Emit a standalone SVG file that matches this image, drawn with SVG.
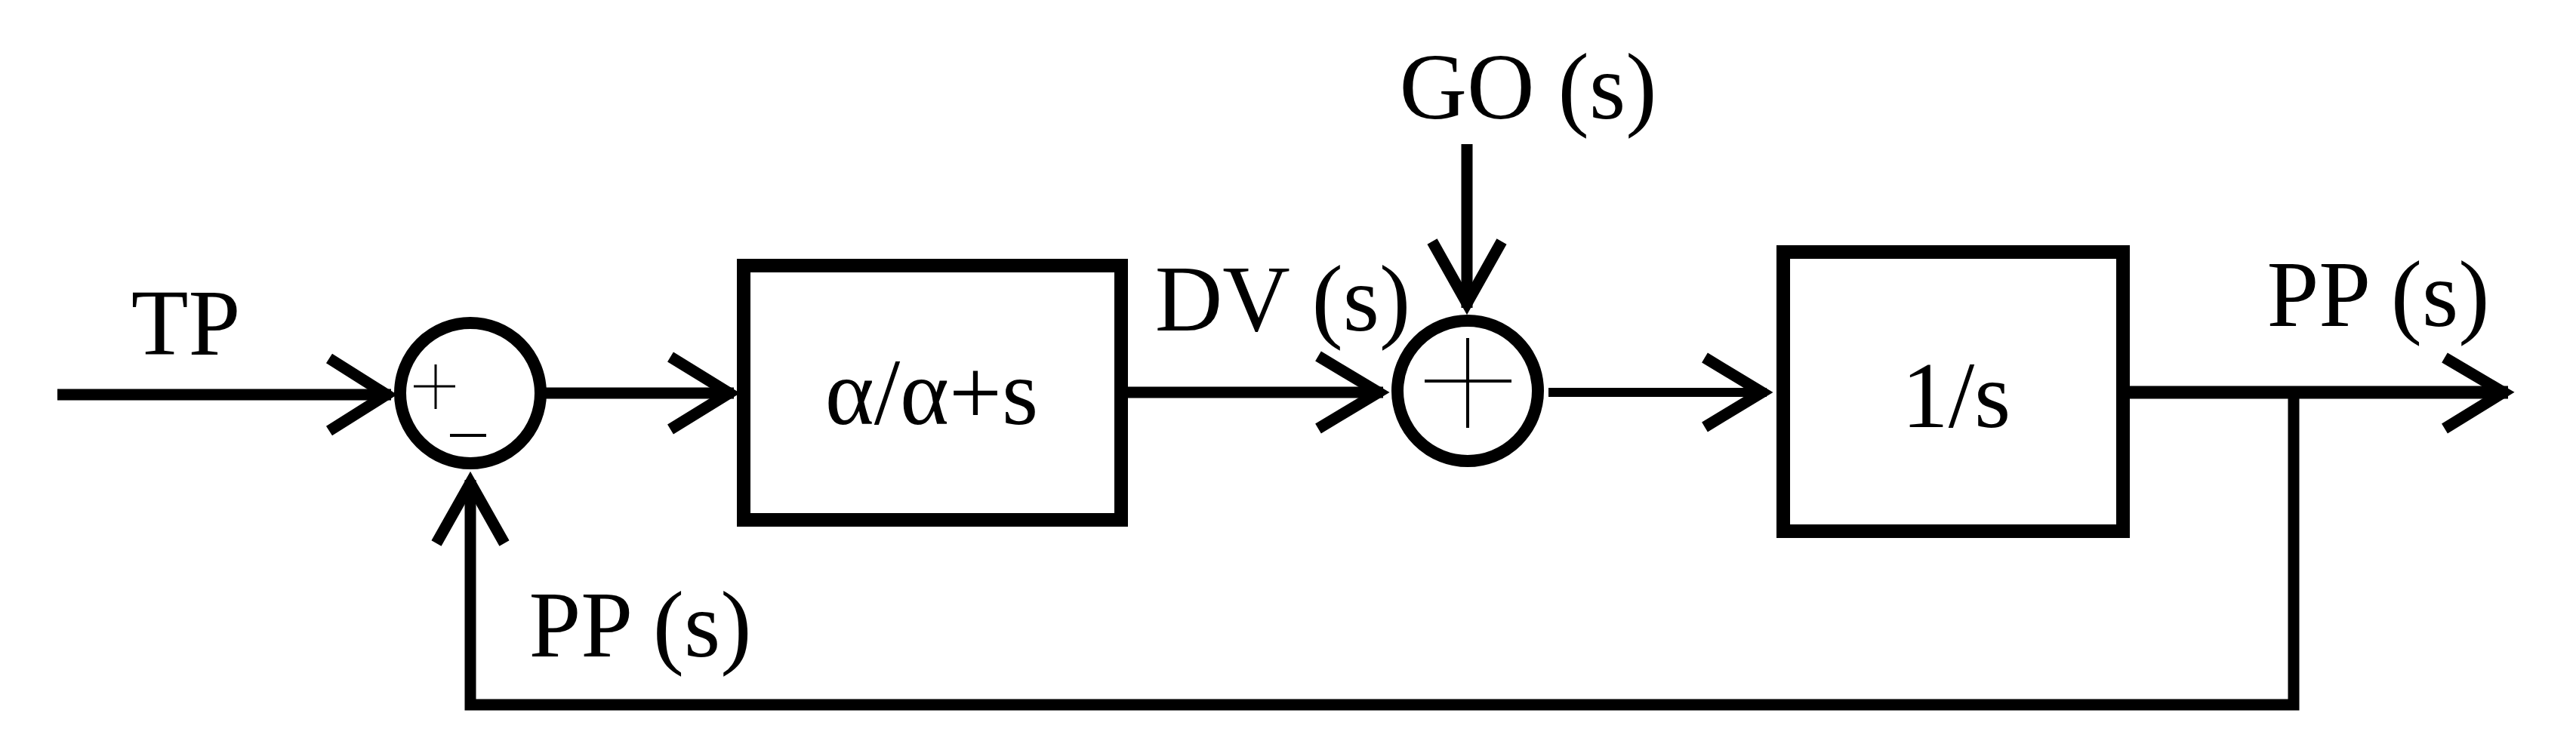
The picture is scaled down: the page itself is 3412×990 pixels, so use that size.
<svg xmlns="http://www.w3.org/2000/svg" width="3412" height="990" viewBox="0 0 3412 990">
<style>
.ln{fill:none;stroke:#000;stroke-width:15;stroke-linecap:butt}
.ah{fill:none;stroke:#000;stroke-width:15;stroke-linejoin:miter;stroke-miterlimit:10;stroke-linecap:butt}
.box{fill:#fff;stroke:#000;stroke-width:18}
.sum{fill:#fff;stroke:#000;stroke-width:16}
.sign{stroke:#000;stroke-width:4;fill:none}
.t{font-family:"Liberation Serif","Times New Roman",serif;font-size:124px;fill:#000;text-anchor:middle}
</style>
<rect width="3412" height="990" fill="#fff"/>
<g id="connectors">
  <line class="ln" x1="76" y1="523" x2="518" y2="523"/>
  <polyline class="ah" points="436,475 512,523 436,571"/>
  <line class="ln" x1="722" y1="521" x2="972" y2="521"/>
  <polyline class="ah" points="888,473 966,521 888,569"/>
  <line class="ln" x1="1493" y1="520" x2="1832" y2="520"/>
  <polyline class="ah" points="1746,472 1826,520 1746,568"/>
  <line class="ln" x1="1943" y1="191" x2="1943" y2="408"/>
  <polyline class="ah" points="1897,320 1943,402 1989,320"/>
  <line class="ln" x1="2051" y1="520" x2="2340" y2="520" style="stroke-width:12"/>
  <polyline class="ah" points="2258,474 2334,520 2258,566"/>
  <line class="ln" x1="2820" y1="520" x2="3322" y2="520" style="stroke-width:17"/>
  <polyline class="ah" points="3238,474 3316,520 3238,568"/>
  <polyline class="ln" points="3038,520 3038,934 623,934 623,636" style="stroke-linejoin:miter"/>
  <polyline class="ah" points="578,720 623,640 668,720"/>
</g>
<g id="sum1">
  <circle class="sum" cx="623" cy="521" r="93"/>
  <line class="sign" x1="548" y1="512" x2="603" y2="512" style="stroke-width:3"/>
  <line class="sign" x1="577" y1="483" x2="577" y2="542" style="stroke-width:3"/>
  <line class="sign" x1="596" y1="577" x2="644" y2="577"/>
</g>
<g id="block1">
  <rect class="box" x="985" y="352" width="500" height="337"/>
  <text class="t" x="1234" y="562">α/α+s</text>
</g>
<g id="sum2">
  <circle class="sum" cx="1944" cy="518" r="93"/>
  <line class="sign" x1="1887" y1="505" x2="2002" y2="505"/>
  <line class="sign" x1="1944" y1="448" x2="1944" y2="567"/>
</g>
<g id="block2">
  <rect class="box" x="2362" y="334" width="450" height="370"/>
  <text class="t" x="2591" y="566">1/s</text>
</g>
<g id="labels">
  <text class="t" x="246" y="470">TP</text>
  <text class="t" x="1699" y="438">DV (s)</text>
  <text class="t" x="2024" y="157">GO (s)</text>
  <text class="t" x="3150" y="432">PP (s)</text>
  <text class="t" x="848" y="870">PP (s)</text>
</g>
</svg>
